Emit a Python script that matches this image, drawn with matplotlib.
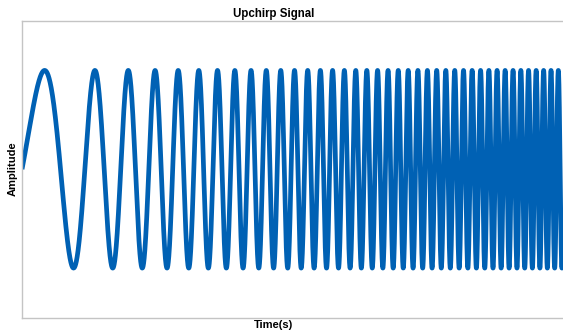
import matplotlib.pyplot as plt
import numpy as np

# chirp parameters
duration = 1.0
start_freq = 4.5
end_freq = 75.3
amplitude = 1.0
y_limit = 1.5

title = "Upchirp Signal"
x_label = "Time(s)"
y_label = "Amplitude"


def upchirp(t: np.ndarray) -> np.ndarray:
    rate = (end_freq - start_freq) / duration
    phase = 2 * np.pi * (start_freq * t + 0.5 * rate * t**2)
    return amplitude * np.sin(phase)


plt.rcParams["font.family"] = ["Liberation Sans", "DejaVu Sans"]

fig = plt.figure(figsize=(5.63, 3.31), dpi=100)
ax = fig.add_axes([22 / 563, 13.5 / 331, 1 - 22 / 563, 296.5 / 331])

t = np.linspace(0, duration, 20000)
ax.plot(t, upchirp(t), color="#0061B4", linewidth=3.4, solid_capstyle="butt")

ax.set_xlim(0, duration)
ax.set_ylim(-y_limit, y_limit)
ax.set_xticks([])
ax.set_yticks([])

for side in ["left", "top", "bottom"]:
    ax.spines[side].set_color("#c4c4c4")
    ax.spines[side].set_linewidth(1.0)
ax.spines["right"].set_visible(False)

fig.text(274 / 563, 1 - 14 / 331, title, ha="center", va="center",
         fontsize=8.3, fontweight="bold")
fig.text(274 / 563, 1 / 331, x_label, ha="center", va="bottom",
         fontsize=8, fontweight="bold")
fig.text(13 / 563, 1 - 169 / 331, y_label, ha="center", va="center",
         rotation=90, fontsize=8, fontweight="bold")

fig.savefig("out.png", dpi=100)
